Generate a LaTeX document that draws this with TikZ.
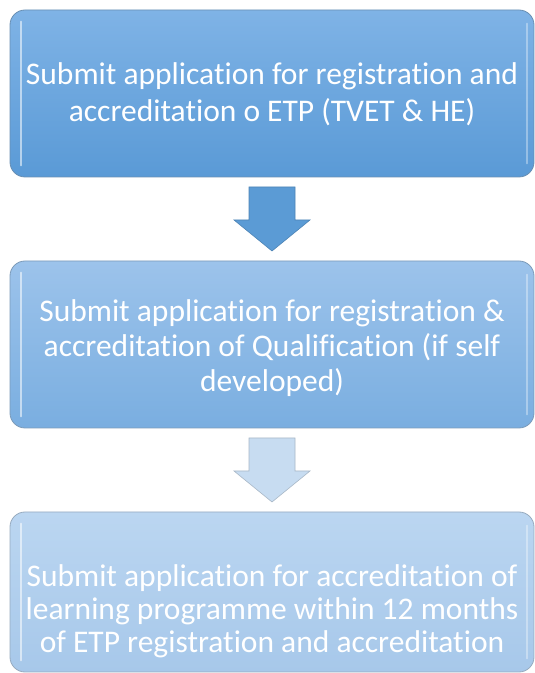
\documentclass[tikz,border=0pt]{standalone}
\usepackage{fontspec}
\setmainfont{Carlito}[Ligatures=NoCommon]
\usetikzlibrary{calc}
\begin{document}
\begin{tikzpicture}[x=1pt,y=1pt,
  box/.style={rounded corners=15pt, minimum width=524pt, inner sep=0pt, draw=#1!75!black!80, line width=0.8pt},
  label/.style={align=center, text=white, inner sep=0pt},
  hl/.style={white, opacity=0.55, line width=2pt, line cap=round},
  blockarrow/.style={line width=0.6pt, line join=miter}
]
\definecolor{bAtop}{HTML}{7FB3E6}
\definecolor{bAbot}{HTML}{5A9AD6}
\definecolor{bBtop}{HTML}{9CC3EB}
\definecolor{bBbot}{HTML}{7AAEE0}
\definecolor{bCtop}{HTML}{BBD6F1}
\definecolor{bCbot}{HTML}{A7C8EA}
\definecolor{arrA}{HTML}{5B9BD5}
\definecolor{arrB}{HTML}{C7DCF1}
\useasboundingbox (0,0) rectangle (535,673);
\fill[white] (0,0) rectangle (535,673);

% boxes
\node[box=bAbot, minimum height=167pt, top color=bAtop, bottom color=bAbot] (b1) at (272,579.5) {};
\node[box=bBbot, minimum height=167pt, top color=bBtop, bottom color=bBbot] (b2) at (272,328.5) {};
\node[box=bCbot, minimum height=160pt, top color=bCtop, bottom color=bCbot] (b3) at (272,81) {};

% bevel highlights
\foreach \b in {b1,b2,b3}{
  \draw[hl] ([xshift=11pt,yshift=-12pt]\b.north west) -- ([xshift=11pt,yshift=12pt]\b.south west);
  \draw[hl, opacity=0.35] ([xshift=-7pt,yshift=-14pt]\b.north east) -- ([xshift=-7pt,yshift=14pt]\b.south east);
}

% texts
\node[label, font=\fontsize{31.5}{37}\selectfont] (t1) at ([yshift=-1pt]b1.center)
  {Submit application for registration and\\accreditation o ETP (TVET \& HE)};
\node[label, font=\fontsize{31.5}{35}\selectfont] (t2) at ([yshift=-4pt]b2.center)
  {Submit application for registration \&\\accreditation of Qualification (if self\\developed)};
\node[label, font=\fontsize{31.5}{33}\selectfont] (t3) at ([yshift=-19pt]b3.center)
  {Submit application for accreditation of\\learning programme within 12 months\\of ETP registration and accreditation};

% block arrows
\coordinate (a1) at ($(b1.south)!0.5!(b2.north)$);
\draw[blockarrow, fill=arrA, draw=arrA!85!black]
  ([xshift=-23pt,yshift=32pt]a1) -- ([xshift=23pt,yshift=32pt]a1) -- ([xshift=23pt,yshift=-1pt]a1)
  -- ([xshift=38pt,yshift=-1pt]a1) -- ([yshift=-32pt]a1) -- ([xshift=-38pt,yshift=-1pt]a1)
  -- ([xshift=-23pt,yshift=-1pt]a1) -- cycle;
\coordinate (a2) at ($(b2.south)!0.5!(b3.north)$);
\draw[blockarrow, fill=arrB, draw=arrB!80!black!90]
  ([xshift=-23pt,yshift=32pt]a2) -- ([xshift=23pt,yshift=32pt]a2) -- ([xshift=23pt,yshift=-1pt]a2)
  -- ([xshift=38pt,yshift=-1pt]a2) -- ([yshift=-32pt]a2) -- ([xshift=-38pt,yshift=-1pt]a2)
  -- ([xshift=-23pt,yshift=-1pt]a2) -- cycle;
\end{tikzpicture}
\end{document}
